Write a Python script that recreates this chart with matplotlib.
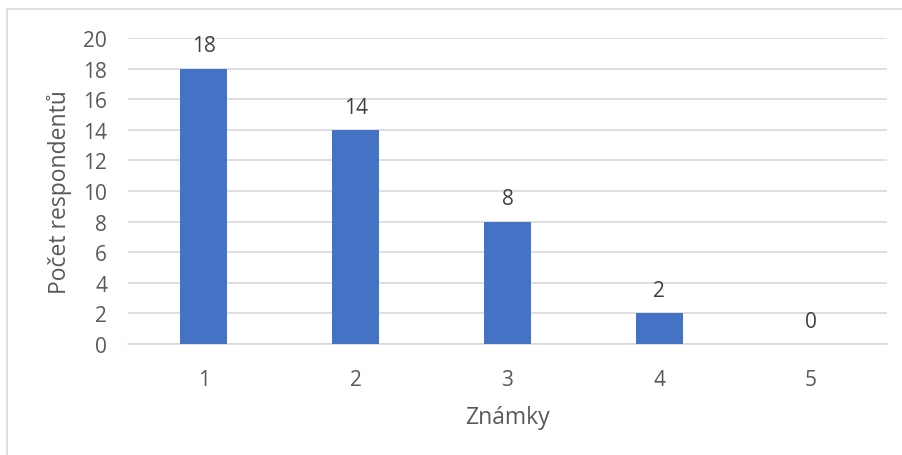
import matplotlib
matplotlib.use("Agg")
from matplotlib import pyplot as plt
from matplotlib.patches import Rectangle

# data
grades = ["1", "2", "3", "4", "5"]
counts = [18, 14, 8, 2, 0]

plt.rcParams['font.family'] = ['Open Sans', 'DejaVu Sans']
text_col = '#595959'

fig = plt.figure(figsize=(9.02, 4.56), dpi=100)
ax = fig.add_axes([128/902, 1-345/456, (887-128)/902, (345-39)/456])

x = range(1, len(grades)+1)
ax.bar(x, counts, width=0.31, color='#4472C4', zorder=3)
for xi, c in zip(x, counts):
    ax.text(xi, c + 0.8, str(c), ha='center', va='bottom', fontsize=15, color='#404040')

ax.set_xlim(0.5, 5.5)
ax.set_ylim(0, 20)
ax.set_yticks(range(0, 21, 2))
ax.set_xticks(list(x))
ax.set_xticklabels(grades)
ax.yaxis.grid(True, color='#d9d9d9', linewidth=1.2, zorder=0)
for s in ['top', 'right', 'left']:
    ax.spines[s].set_visible(False)
ax.spines['bottom'].set_color('#d9d9d9')
ax.spines['bottom'].set_linewidth(1.2)
ax.tick_params(length=0, labelsize=15, colors=text_col)
ax.tick_params(axis='x', pad=18)
ax.tick_params(axis='y', pad=15)
ax.set_xlabel('Známky', fontsize=16.5, color=text_col, labelpad=11)
ax.set_ylabel('Počet respondentů', fontsize=16.5, color=text_col, labelpad=8)

# outer chart border (cropped at right/bottom)
fig.patches.append(Rectangle((7/902, -0.1), 1.2, 1 - 10/456 + 0.1, transform=fig.transFigure,
                             fill=False, edgecolor='#d9d9d9', linewidth=1.2))

fig.savefig('out.png', dpi=100)
